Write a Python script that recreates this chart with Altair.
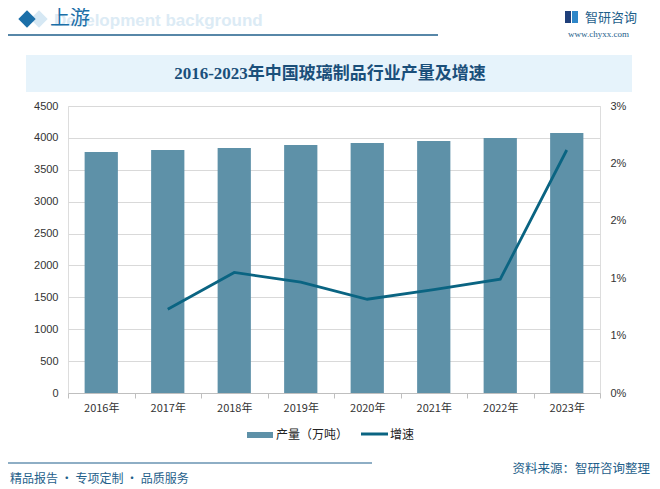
import altair as alt
import pandas as pd

years = ["2016年", "2017年", "2018年", "2019年", "2020年", "2021年", "2022年", "2023年"]
output = [3779, 3810, 3841, 3888, 3920, 3951, 3998, 4077]
growth = [None, 0.00875, 0.0126, 0.0116, 0.0098, 0.0108, 0.0119, 0.0254]

df = pd.DataFrame({"year": years, "output": output, "growth": growth})

CJK = "Noto Sans CJK SC"
BAR = "#5E91A8"
LINE = "#0A6482"
DARK = "#1F5F8B"

x_enc = alt.X("year:N", sort=years, title=None,
              scale=alt.Scale(paddingInner=0, paddingOuter=0),
              axis=alt.Axis(labelFont=CJK, labelFontSize=11, labelColor="#333333",
                            labelAngle=0, labelPadding=4, domainColor="#BFBFBF",
                            tickColor="#BFBFBF", tickSize=5, tickBand="extent", grid=False))

bars = alt.Chart(df).mark_bar(color=BAR, width=alt.RelativeBandSize(0.5)).encode(
    x=x_enc,
    y=alt.Y("output:Q", title=None,
            scale=alt.Scale(domain=[0, 4500], nice=False),
            axis=alt.Axis(values=list(range(0, 4501, 500)), format="d", labelFont="Liberation Sans",
                          labelFontSize=11, labelColor="#333333", domain=False, ticks=False,
                          labelPadding=10, gridColor="#D9D9D9", gridWidth=1)),
)

line = alt.Chart(df).transform_filter("datum.growth != null").mark_line(
    color=LINE, strokeWidth=2.8).encode(
    x=alt.X("year:N", sort=years),
    y=alt.Y("growth:Q", title=None,
            scale=alt.Scale(domain=[0, 0.03], nice=False),
            axis=alt.Axis(orient="right", values=[0, 0.006, 0.012, 0.018, 0.024, 0.03],
                          format=".0%", labelFont="Liberation Sans", labelFontSize=11,
                          labelColor="#333333", domain=False, ticks=False, grid=False,
                          labelPadding=10)),
)

main = alt.layer(bars, line).resolve_scale(y="independent")

def txt(t, x, y, size, color, align="left", weight="normal", font=CJK, baseline="middle"):
    return alt.Chart(pd.DataFrame({"t": [t]})).mark_text(
        align=align, baseline=baseline, fontSize=size, color=color, fontWeight=weight, font=font
    ).encode(text="t:N", x=alt.value(x), y=alt.value(y))

def rect(x, x2, y, y2, color):
    return alt.Chart(pd.DataFrame({"a": [0]})).mark_rect(color=color).encode(
        x=alt.value(x), x2=alt.value(x2), y=alt.value(y), y2=alt.value(y2))

def hline(x, x2, y, color, w=1.5):
    return alt.Chart(pd.DataFrame({"a": [0]})).mark_rule(color=color, strokeWidth=w).encode(
        x=alt.value(x), x2=alt.value(x2), y=alt.value(y))

# header (coordinates relative to plot origin at image (68,106))
diamond = alt.Chart(pd.DataFrame({"a": [0]})).mark_point(
    shape="diamond", filled=True, color="#1B6FA8", size=300, opacity=1).encode(
    x=alt.value(-41), y=alt.value(-87))
diamond2 = alt.Chart(pd.DataFrame({"a": [0]})).mark_point(
    shape="diamond", filled=True, color="#D6E8F4", size=300, opacity=1).encode(
    x=alt.value(-29), y=alt.value(-87))
deco = [
    diamond2, diamond,
    txt("Development background", -14, -85, 17, "#DCEBF5", weight="bold", font="Liberation Sans"),
    txt("上游", -18, -87, 20, "#1B6FA8"),
    hline(-60, 370, -71, DARK, 1.5),
    rect(497, 503, -95, -83, "#1F3F7A"),
    rect(504, 510, -95, -83, "#2E86C8"),
    txt("智研咨询", 517, -88, 13, DARK),
    txt("www.chyxx.com", 500, -72, 9, DARK, font="Liberation Serif"),
    rect(-42, 564, -51, -14, "#E6F3FB"),
    txt("2016-2023年中国玻璃制品行业产量及增速", 262, -32, 17, "#1A4F7A", align="center",
        weight="bold", font="Liberation Serif, Noto Sans CJK SC"),
    rect(179, 205, 326, 332, BAR),
    txt("产量（万吨）", 208, 329, 12, "#222222"),
    hline(293, 320, 328, LINE, 3),
    txt("增速", 322, 329, 12, "#222222"),
    hline(-60, 304, 357, DARK, 1.2),
    txt("资料来源：智研咨询整理", 582, 363, 12.5, DARK, align="right"),
    txt("精品报告 · 专项定制 · 品质服务", -58, 373, 12, DARK),
]

chart = alt.layer(*deco[:10], main, *deco[10:]).resolve_scale(y="independent").properties(
    width=532, height=287,
    autosize=alt.AutoSizeParams(type="none"),
    padding={"left": 60, "top": 98, "right": 52, "bottom": 95},
).configure_view(stroke=None).configure(background="white")

chart.save("out.html", embed_options={"renderer": "svg", "actions": False})
